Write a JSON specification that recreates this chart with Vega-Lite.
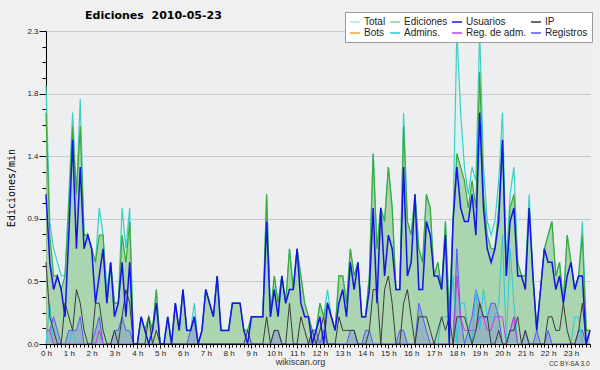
{
  "$schema": "https://vega.github.io/schema/vega-lite/v6.json",
  "width": 544,
  "height": 313,
  "autosize": "none",
  "padding": {"left": 46, "top": 31, "right": 10, "bottom": 26},
  "background": "#f0f0f0",
  "title": {"text": "Ediciones\u00a0 2010-05-23", "anchor": "start", "frame": "group", "dx": 39, "dy": 19, "offset": 10, "font": "DejaVu Sans", "fontSize": 11, "fontWeight": "bold", "color": "#000000"},
  "config": {"view": {"fill": "#eceef0", "stroke": null}, "axis": {"domainWidth": 1, "tickWidth": 1}},
  "resolve": {"axis": {"x": "independent", "y": "independent"}},
  "data": {"values": [
{"i":0,"Total":1.9,"Ediciones":1.7,"Usuarios":1.1,"IP":0.6,"Admins":0,"RegAdm":0.1,"Registros":0.1},
{"i":1,"Total":0.9,"Ediciones":0.8,"Usuarios":0.6,"IP":0.2,"Admins":0.3,"RegAdm":0.1,"Registros":0.1},
{"i":2,"Total":0.7,"Ediciones":0.5,"Usuarios":0.4,"IP":0.1,"Admins":0,"RegAdm":0,"Registros":0.2},
{"i":3,"Total":0.6,"Ediciones":0.5,"Usuarios":0.5,"IP":0,"Admins":0,"RegAdm":0,"Registros":0.1},
{"i":4,"Total":0.5,"Ediciones":0.4,"Usuarios":0.4,"IP":0,"Admins":0,"RegAdm":0,"Registros":0},
{"i":5,"Total":0.5,"Ediciones":0.5,"Usuarios":0.2,"IP":0.3,"Admins":0,"RegAdm":0,"Registros":0},
{"i":6,"Total":1.1,"Ediciones":1.0,"Usuarios":0.8,"IP":0.2,"Admins":0,"RegAdm":0,"Registros":0.1},
{"i":7,"Total":1.7,"Ediciones":1.6,"Usuarios":1.5,"IP":0.1,"Admins":0.1,"RegAdm":0,"Registros":0.1},
{"i":8,"Total":1.1,"Ediciones":1.1,"Usuarios":0.7,"IP":0.4,"Admins":0,"RegAdm":0,"Registros":0.1},
{"i":9,"Total":1.8,"Ediciones":1.6,"Usuarios":1.3,"IP":0.3,"Admins":0,"RegAdm":0,"Registros":0.2},
{"i":10,"Total":0.8,"Ediciones":0.8,"Usuarios":0.7,"IP":0.1,"Admins":0,"RegAdm":0,"Registros":0},
{"i":11,"Total":0.8,"Ediciones":0.8,"Usuarios":0.8,"IP":0,"Admins":0,"RegAdm":0,"Registros":0},
{"i":12,"Total":0.7,"Ediciones":0.7,"Usuarios":0.7,"IP":0,"Admins":0,"RegAdm":0,"Registros":0},
{"i":13,"Total":0.6,"Ediciones":0.6,"Usuarios":0.3,"IP":0.3,"Admins":0,"RegAdm":0,"Registros":0.1},
{"i":14,"Total":1.0,"Ediciones":0.8,"Usuarios":0.5,"IP":0.3,"Admins":0,"RegAdm":0.1,"Registros":0.2},
{"i":15,"Total":0.8,"Ediciones":0.8,"Usuarios":0.7,"IP":0.1,"Admins":0,"RegAdm":0,"Registros":0},
{"i":16,"Total":0.4,"Ediciones":0.3,"Usuarios":0.3,"IP":0,"Admins":0,"RegAdm":0,"Registros":0},
{"i":17,"Total":0.6,"Ediciones":0.6,"Usuarios":0.6,"IP":0,"Admins":0,"RegAdm":0,"Registros":0},
{"i":18,"Total":0.3,"Ediciones":0.3,"Usuarios":0.2,"IP":0.1,"Admins":0,"RegAdm":0,"Registros":0.1},
{"i":19,"Total":0.3,"Ediciones":0.3,"Usuarios":0.3,"IP":0,"Admins":0,"RegAdm":0,"Registros":0.1},
{"i":20,"Total":1.0,"Ediciones":0.8,"Usuarios":0.6,"IP":0.2,"Admins":0,"RegAdm":0,"Registros":0.2},
{"i":21,"Total":0.7,"Ediciones":0.6,"Usuarios":0.2,"IP":0.4,"Admins":0,"RegAdm":0,"Registros":0.1},
{"i":22,"Total":1.0,"Ediciones":0.9,"Usuarios":0.6,"IP":0.3,"Admins":0,"RegAdm":0,"Registros":0.1},
{"i":23,"Total":0,"Ediciones":0,"Usuarios":0,"IP":0,"Admins":0,"RegAdm":0,"Registros":0},
{"i":24,"Total":0,"Ediciones":0,"Usuarios":0,"IP":0,"Admins":0,"RegAdm":0,"Registros":0},
{"i":25,"Total":0.2,"Ediciones":0.2,"Usuarios":0.2,"IP":0,"Admins":0,"RegAdm":0,"Registros":0},
{"i":26,"Total":0.1,"Ediciones":0.1,"Usuarios":0.1,"IP":0,"Admins":0,"RegAdm":0,"Registros":0},
{"i":27,"Total":0.2,"Ediciones":0.2,"Usuarios":0,"IP":0.2,"Admins":0,"RegAdm":0,"Registros":0},
{"i":28,"Total":0.1,"Ediciones":0.1,"Usuarios":0.1,"IP":0,"Admins":0,"RegAdm":0,"Registros":0},
{"i":29,"Total":0.4,"Ediciones":0.4,"Usuarios":0.3,"IP":0.1,"Admins":0,"RegAdm":0,"Registros":0},
{"i":30,"Total":0,"Ediciones":0,"Usuarios":0,"IP":0,"Admins":0,"RegAdm":0,"Registros":0},
{"i":31,"Total":0,"Ediciones":0,"Usuarios":0,"IP":0,"Admins":0,"RegAdm":0,"Registros":0},
{"i":32,"Total":0.2,"Ediciones":0.2,"Usuarios":0.2,"IP":0,"Admins":0,"RegAdm":0,"Registros":0},
{"i":33,"Total":0,"Ediciones":0,"Usuarios":0,"IP":0,"Admins":0,"RegAdm":0,"Registros":0},
{"i":34,"Total":0.3,"Ediciones":0.3,"Usuarios":0.3,"IP":0,"Admins":0,"RegAdm":0,"Registros":0},
{"i":35,"Total":0.1,"Ediciones":0.1,"Usuarios":0.1,"IP":0,"Admins":0,"RegAdm":0,"Registros":0},
{"i":36,"Total":0.4,"Ediciones":0.4,"Usuarios":0.4,"IP":0,"Admins":0,"RegAdm":0,"Registros":0},
{"i":37,"Total":0.1,"Ediciones":0.1,"Usuarios":0.1,"IP":0,"Admins":0,"RegAdm":0,"Registros":0},
{"i":38,"Total":0.1,"Ediciones":0.1,"Usuarios":0.1,"IP":0,"Admins":0,"RegAdm":0,"Registros":0.1},
{"i":39,"Total":0.3,"Ediciones":0.2,"Usuarios":0.2,"IP":0,"Admins":0,"RegAdm":0,"Registros":0.2},
{"i":40,"Total":0,"Ediciones":0,"Usuarios":0,"IP":0,"Admins":0,"RegAdm":0,"Registros":0},
{"i":41,"Total":0.1,"Ediciones":0.1,"Usuarios":0.1,"IP":0,"Admins":0,"RegAdm":0,"Registros":0},
{"i":42,"Total":0.4,"Ediciones":0.4,"Usuarios":0.4,"IP":0,"Admins":0,"RegAdm":0,"Registros":0},
{"i":43,"Total":0.3,"Ediciones":0.3,"Usuarios":0.3,"IP":0,"Admins":0,"RegAdm":0,"Registros":0},
{"i":44,"Total":0.2,"Ediciones":0.2,"Usuarios":0.2,"IP":0,"Admins":0,"RegAdm":0,"Registros":0},
{"i":45,"Total":0.5,"Ediciones":0.5,"Usuarios":0.5,"IP":0,"Admins":0,"RegAdm":0,"Registros":0},
{"i":46,"Total":0.1,"Ediciones":0.1,"Usuarios":0.1,"IP":0,"Admins":0,"RegAdm":0,"Registros":0},
{"i":47,"Total":0.1,"Ediciones":0.1,"Usuarios":0.1,"IP":0,"Admins":0,"RegAdm":0,"Registros":0},
{"i":48,"Total":0.1,"Ediciones":0.1,"Usuarios":0.1,"IP":0,"Admins":0,"RegAdm":0,"Registros":0},
{"i":49,"Total":0.3,"Ediciones":0.3,"Usuarios":0.3,"IP":0,"Admins":0,"RegAdm":0,"Registros":0},
{"i":50,"Total":0.3,"Ediciones":0.3,"Usuarios":0.3,"IP":0,"Admins":0,"RegAdm":0,"Registros":0},
{"i":51,"Total":0.3,"Ediciones":0.3,"Usuarios":0.3,"IP":0,"Admins":0,"RegAdm":0,"Registros":0},
{"i":52,"Total":0.1,"Ediciones":0.1,"Usuarios":0.1,"IP":0,"Admins":0,"RegAdm":0,"Registros":0},
{"i":53,"Total":0.1,"Ediciones":0.1,"Usuarios":0,"IP":0.1,"Admins":0,"RegAdm":0,"Registros":0},
{"i":54,"Total":0.2,"Ediciones":0.2,"Usuarios":0.2,"IP":0,"Admins":0,"RegAdm":0,"Registros":0},
{"i":55,"Total":0.2,"Ediciones":0.2,"Usuarios":0.2,"IP":0,"Admins":0,"RegAdm":0,"Registros":0},
{"i":56,"Total":0.2,"Ediciones":0.2,"Usuarios":0.2,"IP":0,"Admins":0,"RegAdm":0,"Registros":0},
{"i":57,"Total":0.2,"Ediciones":0.2,"Usuarios":0.2,"IP":0,"Admins":0,"RegAdm":0,"Registros":0},
{"i":58,"Total":1.1,"Ediciones":1.1,"Usuarios":0.9,"IP":0.2,"Admins":0,"RegAdm":0,"Registros":0},
{"i":59,"Total":0.2,"Ediciones":0.2,"Usuarios":0.2,"IP":0,"Admins":0,"RegAdm":0,"Registros":0},
{"i":60,"Total":0.5,"Ediciones":0.5,"Usuarios":0.4,"IP":0.1,"Admins":0,"RegAdm":0,"Registros":0.1},
{"i":61,"Total":0.3,"Ediciones":0.3,"Usuarios":0.2,"IP":0.1,"Admins":0,"RegAdm":0,"Registros":0.1},
{"i":62,"Total":0.5,"Ediciones":0.5,"Usuarios":0.5,"IP":0,"Admins":0,"RegAdm":0,"Registros":0},
{"i":63,"Total":0.3,"Ediciones":0.3,"Usuarios":0.3,"IP":0,"Admins":0,"RegAdm":0,"Registros":0},
{"i":64,"Total":0.7,"Ediciones":0.7,"Usuarios":0.4,"IP":0.3,"Admins":0,"RegAdm":0,"Registros":0},
{"i":65,"Total":0.4,"Ediciones":0.4,"Usuarios":0.4,"IP":0,"Admins":0,"RegAdm":0,"Registros":0},
{"i":66,"Total":0.7,"Ediciones":0.7,"Usuarios":0.7,"IP":0,"Admins":0,"RegAdm":0,"Registros":0},
{"i":67,"Total":0.5,"Ediciones":0.5,"Usuarios":0.3,"IP":0.2,"Admins":0,"RegAdm":0,"Registros":0},
{"i":68,"Total":0.3,"Ediciones":0.3,"Usuarios":0.2,"IP":0.1,"Admins":0,"RegAdm":0,"Registros":0},
{"i":69,"Total":0.2,"Ediciones":0.2,"Usuarios":0.2,"IP":0,"Admins":0,"RegAdm":0,"Registros":0},
{"i":70,"Total":0.1,"Ediciones":0.1,"Usuarios":0,"IP":0.1,"Admins":0,"RegAdm":0,"Registros":0.1},
{"i":71,"Total":0.1,"Ediciones":0.1,"Usuarios":0.1,"IP":0,"Admins":0,"RegAdm":0,"Registros":0.1},
{"i":72,"Total":0.3,"Ediciones":0.3,"Usuarios":0.2,"IP":0.1,"Admins":0,"RegAdm":0,"Registros":0},
{"i":73,"Total":0.2,"Ediciones":0.2,"Usuarios":0,"IP":0.2,"Admins":0,"RegAdm":0,"Registros":0.1},
{"i":74,"Total":0.4,"Ediciones":0.3,"Usuarios":0.3,"IP":0,"Admins":0,"RegAdm":0,"Registros":0},
{"i":75,"Total":0.2,"Ediciones":0.2,"Usuarios":0.2,"IP":0,"Admins":0,"RegAdm":0,"Registros":0},
{"i":76,"Total":0.1,"Ediciones":0.1,"Usuarios":0.1,"IP":0,"Admins":0,"RegAdm":0,"Registros":0},
{"i":77,"Total":0.5,"Ediciones":0.5,"Usuarios":0.3,"IP":0.2,"Admins":0,"RegAdm":0,"Registros":0},
{"i":78,"Total":0.5,"Ediciones":0.5,"Usuarios":0.4,"IP":0.1,"Admins":0,"RegAdm":0,"Registros":0},
{"i":79,"Total":0.3,"Ediciones":0.3,"Usuarios":0.2,"IP":0.1,"Admins":0,"RegAdm":0,"Registros":0},
{"i":80,"Total":0.7,"Ediciones":0.7,"Usuarios":0.6,"IP":0.1,"Admins":0,"RegAdm":0,"Registros":0.1},
{"i":81,"Total":0.5,"Ediciones":0.5,"Usuarios":0.4,"IP":0.1,"Admins":0,"RegAdm":0,"Registros":0.1},
{"i":82,"Total":0.6,"Ediciones":0.6,"Usuarios":0.6,"IP":0,"Admins":0,"RegAdm":0,"Registros":0},
{"i":83,"Total":0.2,"Ediciones":0.2,"Usuarios":0.2,"IP":0,"Admins":0,"RegAdm":0,"Registros":0},
{"i":84,"Total":0.2,"Ediciones":0.2,"Usuarios":0.2,"IP":0,"Admins":0,"RegAdm":0,"Registros":0.1},
{"i":85,"Total":0.5,"Ediciones":0.5,"Usuarios":0.4,"IP":0.1,"Admins":0,"RegAdm":0,"Registros":0.1},
{"i":86,"Total":1.4,"Ediciones":1.4,"Usuarios":1.0,"IP":0.4,"Admins":0,"RegAdm":0,"Registros":0},
{"i":87,"Total":0.7,"Ediciones":0.7,"Usuarios":0.3,"IP":0.4,"Admins":0,"RegAdm":0,"Registros":0},
{"i":88,"Total":1.0,"Ediciones":1.0,"Usuarios":1.0,"IP":0,"Admins":0,"RegAdm":0,"Registros":0},
{"i":89,"Total":0.9,"Ediciones":0.9,"Usuarios":0.5,"IP":0.4,"Admins":0,"RegAdm":0,"Registros":0},
{"i":90,"Total":1.3,"Ediciones":1.3,"Usuarios":0.8,"IP":0.5,"Admins":0,"RegAdm":0,"Registros":0},
{"i":91,"Total":1.0,"Ediciones":1.0,"Usuarios":0.7,"IP":0.3,"Admins":0,"RegAdm":0,"Registros":0},
{"i":92,"Total":0.4,"Ediciones":0.4,"Usuarios":0.4,"IP":0,"Admins":0,"RegAdm":0,"Registros":0},
{"i":93,"Total":0.4,"Ediciones":0.4,"Usuarios":0.4,"IP":0,"Admins":0,"RegAdm":0,"Registros":0.1},
{"i":94,"Total":1.7,"Ediciones":1.6,"Usuarios":1.3,"IP":0.3,"Admins":0,"RegAdm":0,"Registros":0.1},
{"i":95,"Total":0.9,"Ediciones":0.9,"Usuarios":0.5,"IP":0.4,"Admins":0,"RegAdm":0,"Registros":0},
{"i":96,"Total":0.8,"Ediciones":0.8,"Usuarios":0.6,"IP":0.2,"Admins":0,"RegAdm":0,"Registros":0},
{"i":97,"Total":1.1,"Ediciones":1.1,"Usuarios":1.1,"IP":0,"Admins":0,"RegAdm":0,"Registros":0},
{"i":98,"Total":0.7,"Ediciones":0.7,"Usuarios":0.4,"IP":0.2,"Admins":0,"RegAdm":0,"Registros":0.3},
{"i":99,"Total":0.6,"Ediciones":0.6,"Usuarios":0.4,"IP":0.2,"Admins":0,"RegAdm":0,"Registros":0.2},
{"i":100,"Total":1.1,"Ediciones":1.1,"Usuarios":0.9,"IP":0.2,"Admins":0,"RegAdm":0,"Registros":0.1},
{"i":101,"Total":1.0,"Ediciones":1.0,"Usuarios":0.8,"IP":0.1,"Admins":0,"RegAdm":0,"Registros":0},
{"i":102,"Total":0.5,"Ediciones":0.5,"Usuarios":0.5,"IP":0,"Admins":0,"RegAdm":0,"Registros":0},
{"i":103,"Total":0.6,"Ediciones":0.6,"Usuarios":0.5,"IP":0.1,"Admins":0,"RegAdm":0,"Registros":0},
{"i":104,"Total":0.4,"Ediciones":0.4,"Usuarios":0.4,"IP":0.2,"Admins":0.2,"RegAdm":0,"Registros":0},
{"i":105,"Total":0.9,"Ediciones":0.9,"Usuarios":0.8,"IP":0.1,"Admins":0.2,"RegAdm":0,"Registros":0},
{"i":106,"Total":0.2,"Ediciones":0.2,"Usuarios":0,"IP":0.2,"Admins":0.2,"RegAdm":0,"Registros":0},
{"i":107,"Total":0.9,"Ediciones":0.9,"Usuarios":0.9,"IP":0,"Admins":0.5,"RegAdm":0,"Registros":0},
{"i":108,"Total":2.3,"Ediciones":1.4,"Usuarios":1.3,"IP":0.2,"Admins":0,"RegAdm":0.5,"Registros":0.7},
{"i":109,"Total":1.7,"Ediciones":1.3,"Usuarios":1.0,"IP":0.2,"Admins":0.3,"RegAdm":0.2,"Registros":0.2},
{"i":110,"Total":1.3,"Ediciones":1.2,"Usuarios":0.9,"IP":0.2,"Admins":0.3,"RegAdm":0.1,"Registros":0},
{"i":111,"Total":1.1,"Ediciones":1.0,"Usuarios":0.9,"IP":0.1,"Admins":0.1,"RegAdm":0.1,"Registros":0.1},
{"i":112,"Total":1.3,"Ediciones":1.2,"Usuarios":1.1,"IP":0,"Admins":0,"RegAdm":0.1,"Registros":0.2},
{"i":113,"Total":1.2,"Ediciones":1.0,"Usuarios":0.8,"IP":0.1,"Admins":0.4,"RegAdm":0.1,"Registros":0.4},
{"i":114,"Total":2.3,"Ediciones":2.0,"Usuarios":1.7,"IP":0.3,"Admins":0.1,"RegAdm":0.2,"Registros":0.3},
{"i":115,"Total":1.3,"Ediciones":1.1,"Usuarios":1.0,"IP":0.2,"Admins":0.4,"RegAdm":0.2,"Registros":0.2},
{"i":116,"Total":0.9,"Ediciones":0.8,"Usuarios":0.7,"IP":0.2,"Admins":0.2,"RegAdm":0.1,"Registros":0.2},
{"i":117,"Total":0.8,"Ediciones":0.7,"Usuarios":0.6,"IP":0,"Admins":0.2,"RegAdm":0.1,"Registros":0.3},
{"i":118,"Total":0.9,"Ediciones":0.7,"Usuarios":0.7,"IP":0,"Admins":0.2,"RegAdm":0.2,"Registros":0.3},
{"i":119,"Total":1.2,"Ediciones":1.0,"Usuarios":0.9,"IP":0.1,"Admins":0.3,"RegAdm":0.2,"Registros":0.2},
{"i":120,"Total":1.7,"Ediciones":1.5,"Usuarios":1.5,"IP":0,"Admins":0.8,"RegAdm":0.2,"Registros":0},
{"i":121,"Total":0.6,"Ediciones":0.5,"Usuarios":0.5,"IP":0,"Admins":0,"RegAdm":0,"Registros":0},
{"i":122,"Total":1.1,"Ediciones":1.0,"Usuarios":0.9,"IP":0.1,"Admins":0.7,"RegAdm":0.1,"Registros":0.1},
{"i":123,"Total":1.3,"Ediciones":1.1,"Usuarios":1.0,"IP":0.1,"Admins":0.3,"RegAdm":0.2,"Registros":0.2},
{"i":124,"Total":0.6,"Ediciones":0.6,"Usuarios":0.5,"IP":0.2,"Admins":0,"RegAdm":0,"Registros":0},
{"i":125,"Total":0.5,"Ediciones":0.5,"Usuarios":0.5,"IP":0,"Admins":0,"RegAdm":0,"Registros":0},
{"i":126,"Total":0.5,"Ediciones":0.5,"Usuarios":0.4,"IP":0.1,"Admins":0,"RegAdm":0,"Registros":0.1},
{"i":127,"Total":1.1,"Ediciones":1.0,"Usuarios":1.0,"IP":0,"Admins":0,"RegAdm":0,"Registros":0},
{"i":128,"Total":0.5,"Ediciones":0.5,"Usuarios":0.5,"IP":0,"Admins":0,"RegAdm":0,"Registros":0},
{"i":129,"Total":0.1,"Ediciones":0.1,"Usuarios":0.1,"IP":0,"Admins":0,"RegAdm":0,"Registros":0.1},
{"i":130,"Total":0.4,"Ediciones":0.4,"Usuarios":0.4,"IP":0,"Admins":0,"RegAdm":0,"Registros":0},
{"i":131,"Total":0.7,"Ediciones":0.7,"Usuarios":0.7,"IP":0,"Admins":0,"RegAdm":0,"Registros":0},
{"i":132,"Total":0.8,"Ediciones":0.8,"Usuarios":0.6,"IP":0.2,"Admins":0,"RegAdm":0,"Registros":0.1},
{"i":133,"Total":0.9,"Ediciones":0.9,"Usuarios":0.6,"IP":0.2,"Admins":0,"RegAdm":0,"Registros":0},
{"i":134,"Total":0.5,"Ediciones":0.5,"Usuarios":0.4,"IP":0.1,"Admins":0,"RegAdm":0,"Registros":0},
{"i":135,"Total":0.6,"Ediciones":0.6,"Usuarios":0.5,"IP":0.1,"Admins":0,"RegAdm":0,"Registros":0},
{"i":136,"Total":0.3,"Ediciones":0.3,"Usuarios":0.3,"IP":0.3,"Admins":0,"RegAdm":0,"Registros":0},
{"i":137,"Total":0.8,"Ediciones":0.8,"Usuarios":0.5,"IP":0.1,"Admins":0,"RegAdm":0,"Registros":0},
{"i":138,"Total":0.6,"Ediciones":0.6,"Usuarios":0.6,"IP":0,"Admins":0,"RegAdm":0,"Registros":0},
{"i":139,"Total":0.4,"Ediciones":0.4,"Usuarios":0.4,"IP":0,"Admins":0.2,"RegAdm":0,"Registros":0},
{"i":140,"Total":0.5,"Ediciones":0.5,"Usuarios":0.5,"IP":0.1,"Admins":0.2,"RegAdm":0,"Registros":0.1},
{"i":141,"Total":0.9,"Ediciones":0.8,"Usuarios":0.5,"IP":0.3,"Admins":0,"RegAdm":0,"Registros":0.1},
{"i":142,"Total":0.1,"Ediciones":0.1,"Usuarios":0,"IP":0,"Admins":0,"RegAdm":0,"Registros":0},
{"i":143,"Total":0.1,"Ediciones":0.1,"Usuarios":0.1,"IP":0.1,"Admins":0,"RegAdm":0,"Registros":0}
  ]},
  "layer": [
    {
      "mark": {"type": "area", "fill": "#daf2ec", "line": {"stroke": "#3ccfc8", "strokeWidth": 1.2}},
      "encoding": {
        "x": {"field": "i", "type": "quantitative", "scale": {"domain": [0, 143], "nice": false, "zero": false},
          "axis": {"values": [0,1,2,3,4,5,6,7,8,9,10,11,12,13,14,15,16,17,18,19,20,21,22,23,24,25,26,27,28,29,30,31,32,33,34,35,36,37,38,39,40,41,42,43,44,45,46,47,48,49,50,51,52,53,54,55,56,57,58,59,60,61,62,63,64,65,66,67,68,69,70,71,72,73,74,75,76,77,78,79,80,81,82,83,84,85,86,87,88,89,90,91,92,93,94,95,96,97,98,99,100,101,102,103,104,105,106,107,108,109,110,111,112,113,114,115,116,117,118,119,120,121,122,123,124,125,126,127,128,129,130,131,132,133,134,135,136,137,138,139,140,141,142,143],
            "labelExpr": "datum.value % 6 == 0 ? (datum.value / 6) + ' h' : ''",
            "labelFont": "Liberation Sans", "labelFontSize": 8, "labelColor": "#222222", "labelPadding": 1, "labelOverlap": false, "labelFlush": false,
            "tickSize": {"condition": {"test": "datum.value % 6 == 0", "value": 4}, "value": 3},
            "tickColor": "#000000", "domainColor": "#000000", "grid": false, "zindex": 1,
            "title": "wikiscan.org", "titleX": 254, "titleY": 20, "titleBaseline": "alphabetic", "titleAlign": "center",
            "titleFont": "Liberation Sans", "titleFontSize": 9, "titleFontWeight": "normal", "titleColor": "#333333"}},
        "y": {"field": "Total", "type": "quantitative", "scale": {"domain": [0, 2.3], "nice": false},
          "axis": {"values": [0,0.115,0.23,0.345,0.46,0.575,0.69,0.805,0.92,1.035,1.15,1.265,1.38,1.495,1.61,1.725,1.84,1.955,2.07,2.185,2.3],
            "labelExpr": "abs(datum.value / 0.46 - round(datum.value / 0.46)) < 0.01 ? format(datum.value, '.1f') : ''",
            "labelFont": "Liberation Sans", "labelFontSize": 8, "labelColor": "#222222", "labelPadding": 1, "labelOverlap": false, "labelFlush": false,
            "tickSize": {"condition": {"test": "abs(datum.value / 0.46 - round(datum.value / 0.46)) < 0.01", "value": 7}, "value": 4},
            "gridOpacity": {"condition": {"test": "abs(datum.value / 0.46 - round(datum.value / 0.46)) < 0.01", "value": 1}, "value": 0},
            "grid": true, "gridColor": "#c8c8c8", "tickColor": "#000000", "domainColor": "#000000",
            "title": "Ediciones/min", "titleX": -35, "titleY": 156.5, "titleBaseline": "middle", "titleAlign": "center",
            "titleFont": "DejaVu Sans Mono", "titleFontSize": 10, "titleFontWeight": "normal", "titleColor": "#000000"}}
      }
    },
    {
      "mark": {"type": "area", "fill": "#93c993", "line": {"stroke": "#3aaa3a", "strokeWidth": 1.2}},
      "encoding": {
        "x": {"field": "i", "type": "quantitative", "axis": null},
        "y": {"field": "Ediciones", "type": "quantitative", "axis": null}
      }
    },
    {
      "mark": {"type": "area", "fill": "#4848ff", "fillOpacity": 0.22},
      "encoding": {
        "x": {"field": "i", "type": "quantitative", "axis": null},
        "y": {"field": "Registros", "type": "quantitative", "axis": null}
      }
    },
    {
      "transform": [{"fold": ["Registros", "Admins", "RegAdm", "IP"], "as": ["serie", "v"]}],
      "mark": {"type": "line", "strokeWidth": 1},
      "encoding": {
        "x": {"field": "i", "type": "quantitative", "axis": null},
        "y": {"field": "v", "type": "quantitative", "axis": null},
        "color": {"field": "serie", "type": "nominal",
          "scale": {"domain": ["Total", "Ediciones", "Usuarios", "IP", "Bots", "Admins", "RegAdm", "Registros"],
                    "range": ["#a8e6e0", "#8fd18f", "#1414e6", "#3a3a3a", "#f5a030", "#2ec8d8", "#c63ce0", "#5858ff"]},
          "legend": {"orient": "none", "legendX": 299, "legendY": -19, "direction": "horizontal", "columns": 4, "title": null,
            "symbolType": "stroke", "symbolSize": 100, "symbolStrokeWidth": 1.5,
            "labelFont": "Liberation Sans", "labelFontSize": 10, "labelColor": "#222222", "labelOffset": 3,
            "columnPadding": 1, "rowPadding": 0, "padding": 4, "fillColor": "#ffffff", "strokeColor": "#9a9a9a",
            "labelExpr": "datum.label == 'Admins' ? 'Admins.' : datum.label == 'RegAdm' ? 'Reg. de adm.' : datum.label"}}
      }
    },
    {
      "mark": {"type": "line", "strokeWidth": 1.5},
      "encoding": {
        "x": {"field": "i", "type": "quantitative",
          "axis": {"orient": "bottom", "title": "CC BY-SA 3.0", "titleX": 543, "titleY": 21, "titleAlign": "right", "titleBaseline": "alphabetic",
            "titleFont": "Liberation Sans", "titleFontSize": 6.5, "titleFontWeight": "normal", "titleColor": "#333333",
            "domain": false, "ticks": false, "labels": false, "grid": false}},
        "y": {"field": "Usuarios", "type": "quantitative", "axis": null},
        "color": {"datum": "Usuarios", "type": "nominal"}
      }
    }
  ]
}
